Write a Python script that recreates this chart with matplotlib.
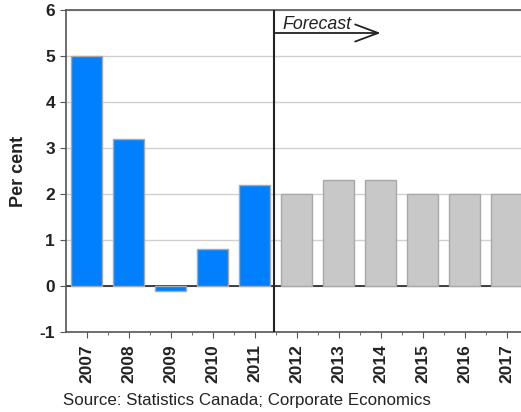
import matplotlib
matplotlib.use('Agg')
import matplotlib.pyplot as plt

plt.rcParams['font.family'] = ['Liberation Sans', 'DejaVu Sans']

years = ['2007', '2008', '2009', '2010', '2011', '2012',
         '2013', '2014', '2015', '2016', '2017']
actual = [5.0, 3.2, -0.1, 0.8, 2.2]
forecast = [2.0, 2.3, 2.3, 2.0, 2.0, 2.0]
yticks = [-1, 0, 1, 2, 3, 4, 5, 6]

fig = plt.figure(figsize=(5.21, 4.12), dpi=100)
ax = fig.add_axes([66/521, 1-332/412, 1-66/521, (332-10)/412])

n_act = len(actual)
x_act = list(range(n_act))
x_fc = list(range(n_act, n_act + len(forecast)))

ax.bar(x_act, actual, width=0.74, color='#0080ff', edgecolor='#a8a8a8',
       linewidth=1, zorder=3)
ax.bar(x_fc, forecast, width=0.74, color='#c8c8c8', edgecolor='#a8a8a8',
       linewidth=1, zorder=3)

ax.axhline(0, color='#222222', linewidth=1.2, zorder=2)
ax.axvline(n_act - 0.53, color='#222222', linewidth=1.5, zorder=4)

ax.set_xlim(-0.49, 10.34)
ax.set_ylim(-1, 6)
ax.set_yticks(yticks)
ax.set_yticklabels([str(v) for v in yticks], fontsize=12.5, fontweight='bold',
                   color='#222222')
ax.set_xticks(range(len(years)))
ax.set_xticklabels(years, rotation=90, fontsize=12.5, fontweight='bold',
                   color='#222222')
ax.set_xticks([i + 0.5 for i in range(len(years) - 1)], minor=True)
ax.tick_params(axis='x', which='major', length=4, color='#555555', pad=5)
ax.tick_params(axis='x', which='minor', length=2, color='#555555')
ax.tick_params(axis='y', length=4, color='#555555', pad=4)

ax.yaxis.grid(True, color='#d0d0d0', linewidth=1, zorder=0)
ax.set_axisbelow(True)

for s in ['left', 'bottom', 'top']:
    ax.spines[s].set_color('#555555')
    ax.spines[s].set_linewidth(1.2)
ax.spines['right'].set_visible(False)

ax.set_ylabel('Per cent', fontsize=13, fontweight='bold', labelpad=9,
              color='#222222')

ax.annotate('', xy=(n_act + 2.0, 5.5), xytext=(n_act - 0.53, 5.5),
            arrowprops=dict(arrowstyle='->,head_length=0.75,head_width=0.28',
                            color='#222222', lw=1.3,
                            mutation_scale=22, shrinkA=0, shrinkB=0))
ax.text(n_act - 0.33, 5.59, 'Forecast', fontsize=12.8, fontstyle='italic',
        color='#222222', ha='left', va='baseline')

fig.text(63/521, 1-400/412, 'Source: Statistics Canada; Corporate Economics',
         fontsize=12.2, color='#222222', ha='left', va='center')

fig.savefig('out.png', dpi=100)
